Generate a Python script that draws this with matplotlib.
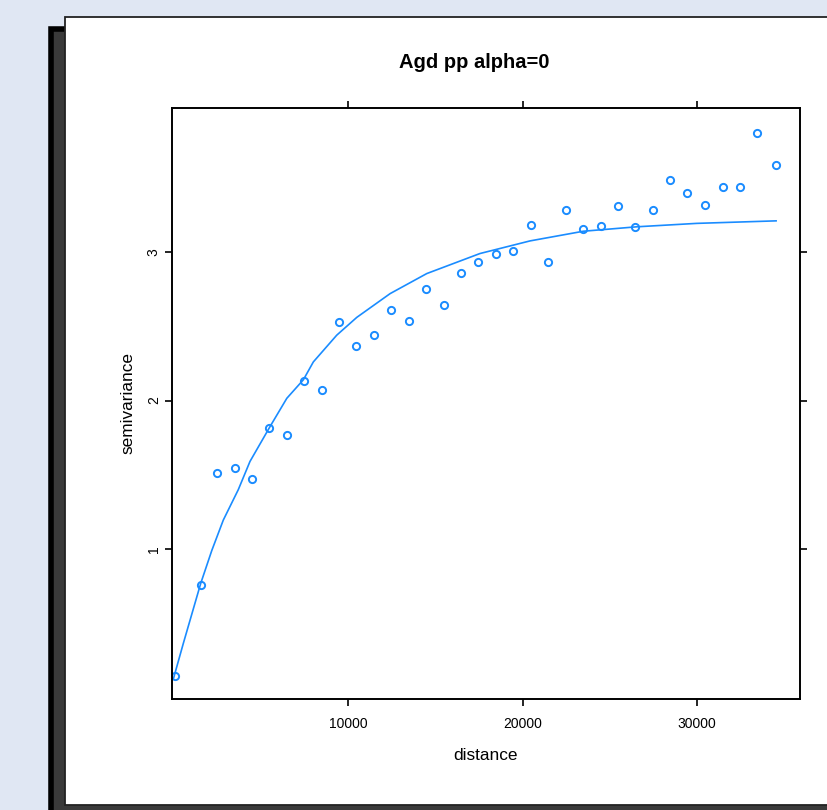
import matplotlib
matplotlib.use("Agg")
import matplotlib.pyplot as plt
from matplotlib.patches import Rectangle

plt.rcParams['font.family'] = ['Liberation Sans', 'DejaVu Sans']

# sample variogram (distance, semivariance)
distance = [70, 1560, 2510, 3510, 4500, 5490, 6490, 7480, 8490, 9480,
            10480, 11490, 12480, 13470, 14470, 15470, 16470, 17460, 18470, 19460,
            20470, 21460, 22470, 23480, 24470, 25480, 26460, 27450, 28460, 29450,
            30450, 31460, 32460, 33460, 34530]
gamma = [0.145, 0.76, 1.515, 1.545, 1.47, 1.815, 1.77, 2.13, 2.07, 2.53,
         2.37, 2.44, 2.61, 2.535, 2.75, 2.64, 2.86, 2.93, 2.99, 3.01,
         3.18, 2.93, 3.28, 3.155, 3.175, 3.31, 3.17, 3.28, 3.485, 3.40,
         3.32, 3.44, 3.44, 3.80, 3.585]

# fitted model curve
model_dist = [0, 560, 1560, 2190, 2850, 3710, 4380, 5530, 6490, 7440, 8010,
              9350, 10500, 12410, 14510, 17560, 20430, 23480, 26550, 29980, 34530]
model_gamma = [0.13, 0.365, 0.77, 0.99, 1.195, 1.40, 1.59, 1.825, 2.015, 2.14, 2.26,
               2.44, 2.56, 2.72, 2.855, 2.99, 3.075, 3.14, 3.17, 3.193, 3.21]

xticks = [10000, 20000, 30000]
yticks = [1, 2, 3]

W, H = 827, 810
fig = plt.figure(figsize=(W / 100, H / 100), dpi=100)
fig.patch.set_facecolor('#e0e7f3')

def px(x0, y0, x1, y1):
    # pixel box -> figure fraction (x, y, w, h)
    return (x0 / W, 1 - y1 / H, (x1 - x0) / W, (y1 - y0) / H)

# drop shadow + white panel behind the plot
x, y, w, h = px(51, 29, 840, 830)
fig.add_artist(Rectangle((x, y), w, h, transform=fig.transFigure,
                         facecolor='#3a3a3a', edgecolor='black', lw=4, zorder=0))
x, y, w, h = px(65, 17, 840, 805)
fig.add_artist(Rectangle((x, y), w, h, transform=fig.transFigure,
                         facecolor='white', edgecolor='#222222', lw=1.3, zorder=1))

ax = fig.add_axes(px(172, 108, 800, 699))
ax.set_zorder(2)
ax.plot(model_dist, model_gamma, color='#1a8cff', lw=1.2)
ax.plot(distance, gamma, 'o', mfc='none', mec='#1a8cff', mew=1.4, ms=5.2)

ax.set_xlim(-90, 35900)
ax.set_ylim(-0.01, 3.97)
ax.set_xticks(xticks)
ax.set_yticks(yticks)
ax.set_yticklabels([str(v) for v in yticks], rotation=90, va='center')
ax.tick_params(direction='out', length=5, width=1.2, labelsize=10, pad=8,
               top=True, right=True, labeltop=False, labelright=False, colors='black')
ax.tick_params(axis='y', pad=3)
for s in ax.spines.values():
    s.set_linewidth(1.4)

ax.set_xlabel('distance', fontsize=12.4, labelpad=12)
ax.set_ylabel('semivariance', fontsize=12.4, labelpad=8)
fig.text(474 / W, 1 - 62 / H, 'Agd pp alpha=0', fontsize=14.5, fontweight='bold',
         ha='center', va='center', zorder=3)

fig.savefig('out.png', dpi=100, facecolor=fig.get_facecolor())
